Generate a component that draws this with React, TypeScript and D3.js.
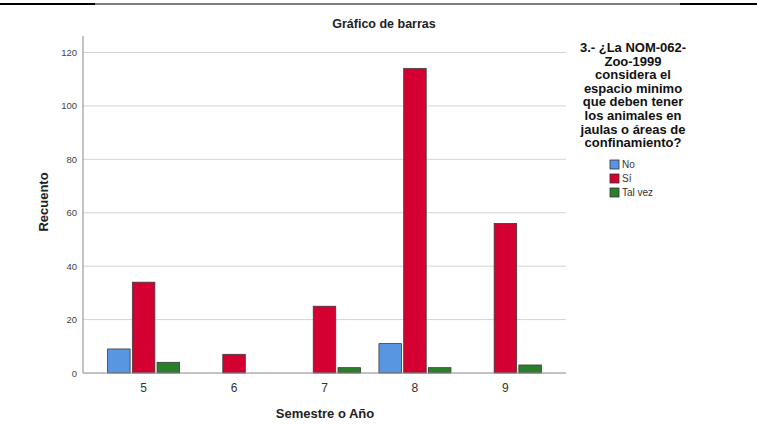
import React from "react";
import * as d3 from "d3";

const categories = ["5", "6", "7", "8", "9"];
const seriesNames = ["No", "Sí", "Tal vez"];
const noValues = [9, 0, 0, 11, 0];
const siValues = [34, 7, 25, 114, 56];
const talVezValues = [4, 0, 2, 2, 3];
const yTicks = [0, 20, 40, 60, 80, 100, 120];
const legendTitleLines = [
  "3.- ¿La NOM-062-",
  "Zoo-1999",
  "considera el",
  "espacio minimo",
  "que deben tener",
  "los animales en",
  "jaulas o áreas de",
  "confinamiento?",
];
const colors = ["#5996e2", "#d50032", "#2a7f2a"];

const W = 757;
const H = 424;
const left = 83;
const right = 566;
const top = 36;
const bottom = 373;

export default function App() {
  const series = [noValues, siValues, talVezValues];
  const x = d3.scalePoint<string>().domain(categories).range([left, right]).padding(0.67);
  const y = d3.scaleLinear().domain([0, 120]).range([bottom, 52.5]);
  const inner = d3.scaleBand<number>().domain([0, 1, 2]).range([-36, 36]).paddingInner(0.09);
  const font = "'Liberation Sans', Arial, sans-serif";
  return (
    <svg width={W} height={H} style={{ position: "absolute", left: 0, top: 0, background: "#fff" }} fontFamily={font}>
      <rect x={0} y={0} width={W} height={H} fill="#fff" />
      <line x1={0} x2={95} y1={4} y2={4} stroke="#000" strokeWidth={2} />
      <line x1={95} x2={680} y1={4} y2={4} stroke="#000" strokeWidth={1} />
      <line x1={680} x2={W} y1={4} y2={4} stroke="#000" strokeWidth={2} />
      <text x={384} y={28} textAnchor="middle" fontSize={12.5} fontWeight="bold" fill="#222">Gráfico de barras</text>
      {yTicks.map((t) => (
        <g key={t}>
          {t > 0 && <line x1={left} x2={right} y1={y(t)} y2={y(t)} stroke="#d4d4d4" strokeWidth={1} />}
          <text x={77} y={y(t) + 3.5} textAnchor="end" fontSize={9.5} fill="#444">{t}</text>
        </g>
      ))}
      {categories.map((c, i) => (
        <g key={c}>
          {series.map((vals, s) =>
            vals[i] > 0 ? (
              <rect
                key={s}
                x={(x(c) as number) + (inner(s) as number)}
                y={y(vals[i])}
                width={inner.bandwidth()}
                height={bottom - y(vals[i])}
                fill={colors[s]}
                stroke="#3a3a3a"
                strokeWidth={0.8}
              />
            ) : null
          )}
          <text x={x(c) as number} y={392} textAnchor="middle" fontSize={12} fill="#333">{c}</text>
        </g>
      ))}
      <line x1={left} x2={left} y1={top} y2={bottom} stroke="#888" strokeWidth={1} />
      <line x1={left} x2={right} y1={bottom} y2={bottom} stroke="#888" strokeWidth={1} />
      <text x={325} y={418} textAnchor="middle" fontSize={13} fontWeight="bold" fill="#222">Semestre o Año</text>
      <text transform={`translate(48,202) rotate(-90)`} textAnchor="middle" fontSize={13} fontWeight="bold" fill="#222">Recuento</text>
      {legendTitleLines.map((l, i) => (
        <text key={i} x={633} y={52 + i * 13.6} textAnchor="middle" fontSize={13} fontWeight="bold" fill="#111">{l}</text>
      ))}
      {seriesNames.map((n, i) => (
        <g key={n}>
          <rect x={610} y={160 + i * 14} width={9} height={9} fill={colors[i]} stroke="#333" strokeWidth={0.8} />
          <text x={622} y={168 + i * 14} fontSize={10} fill="#333">{n}</text>
        </g>
      ))}
    </svg>
  );
}
